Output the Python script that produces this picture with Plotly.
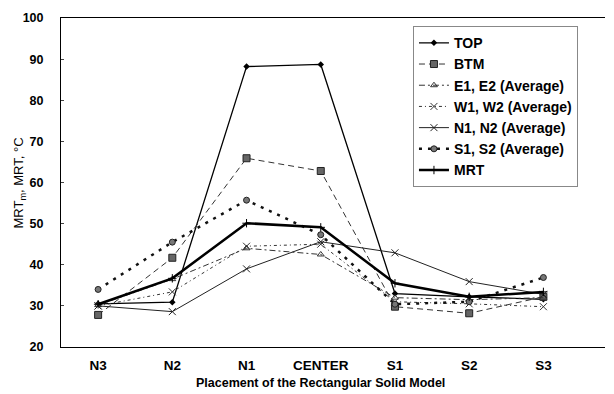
import plotly.graph_objects as go

categories = ["N3", "N2", "N1", "CENTER", "S1", "S2", "S3"]
top = [30.5, 30.9, 88.2, 88.7, 33.0, 32.2, 31.6]
btm = [27.8, 41.7, 65.9, 62.8, 29.8, 28.2, 32.2]
e1e2 = [30.2, 36.5, 44.0, 42.5, 32.0, 31.5, 32.0]
w1w2 = [30.0, 33.4, 44.5, 45.0, 31.0, 30.5, 29.8]
n1n2 = [30.0, 28.6, 39.0, 45.6, 42.9, 35.9, 32.8]
s1s2 = [34.0, 45.5, 55.7, 47.3, 30.4, 31.0, 36.9]
mrt = [30.4, 36.7, 50.1, 49.1, 35.5, 32.2, 33.4]
y_ticks = [20, 30, 40, 50, 60, 70, 80, 90, 100]

x = list(range(len(categories)))

series = [
    ("TOP", top, dict(color="black", width=1.3, dash="solid"), dict(symbol="diamond", size=5, color="black")),
    ("BTM", btm, dict(color="#333", width=1, dash="6px,4px"), dict(symbol="square", size=7, color="#666", line=dict(color="#222", width=1))),
    ("E1, E2 (Average)", e1e2, dict(color="#333", width=1, dash="6px,3px,2px,3px"), dict(symbol="triangle-up-open", size=6, color="#333")),
    ("W1, W2 (Average)", w1w2, dict(color="#333", width=1, dash="3px,3px,1px,3px"), dict(symbol="x-thin-open", size=7, color="#333", line=dict(width=1, color="#333"))),
    ("N1, N2 (Average)", n1n2, dict(color="#222", width=1, dash="solid"), dict(symbol="x-thin-open", size=7, color="#222", line=dict(width=1, color="#222"))),
    ("S1, S2 (Average)", s1s2, dict(color="#111", width=2.5, dash="3px,6px"), dict(symbol="circle", size=6, color="#777", line=dict(color="#222", width=1))),
    ("MRT", mrt, dict(color="black", width=2.5, dash="solid"), dict(symbol="cross-thin-open", size=6, color="black", line=dict(width=1, color="black"))),
]

fig = go.Figure()
for name, vals, ln, mk in series:
    fig.add_trace(go.Scatter(x=x, y=vals, name=name, mode="lines+markers", line=ln, marker=mk))

fig.add_annotation(text="Placement of the Rectangular Solid Model", x=3, xref="x",
                   y=0, yref="paper", yanchor="middle", yshift=-36, showarrow=False,
                   font=dict(size=12.5, weight="bold", family="Liberation Sans, Arial", color="black"))
fig.add_annotation(text="MRT<sub>m</sub>, MRT, °C", x=-0.0754, xref="paper", xanchor="center",
                   y=0.5, yref="paper", yanchor="middle", textangle=-90, showarrow=False,
                   font=dict(size=13, family="Liberation Sans, Arial", color="black"))

fig.update_layout(
    width=614, height=394,
    margin=dict(l=61, r=9, t=18, b=47),
    plot_bgcolor="white", paper_bgcolor="white",
    font=dict(family="Liberation Sans, Arial", color="black", size=13),
    showlegend=True,
    legend=dict(x=0.647, y=0.975, xanchor="left", yanchor="top",
                bordercolor="#888", borderwidth=1, bgcolor="white",
                font=dict(size=14, weight="bold"), itemwidth=30, tracegroupgap=0),
    xaxis=dict(tickmode="array", tickvals=x, ticktext=categories, range=[-0.5, 6.83],
               showline=True, linecolor="black", linewidth=1, mirror=True,
               ticks="", showgrid=False, zeroline=False, ticklabelstandoff=6,
               tickfont=dict(size=13.5, weight="bold")),
    yaxis=dict(range=[20, 100], tickvals=y_ticks,
               showline=True, linecolor="black", linewidth=1,
               ticks="inside", ticklen=3, showgrid=False, zeroline=False,
               ticklabelstandoff=14,
               tickfont=dict(size=12.5, weight="bold")),
)

fig.write_html("out.html", config={"displayModeBar": False},
               post_script="document.body.style.margin='0';")
